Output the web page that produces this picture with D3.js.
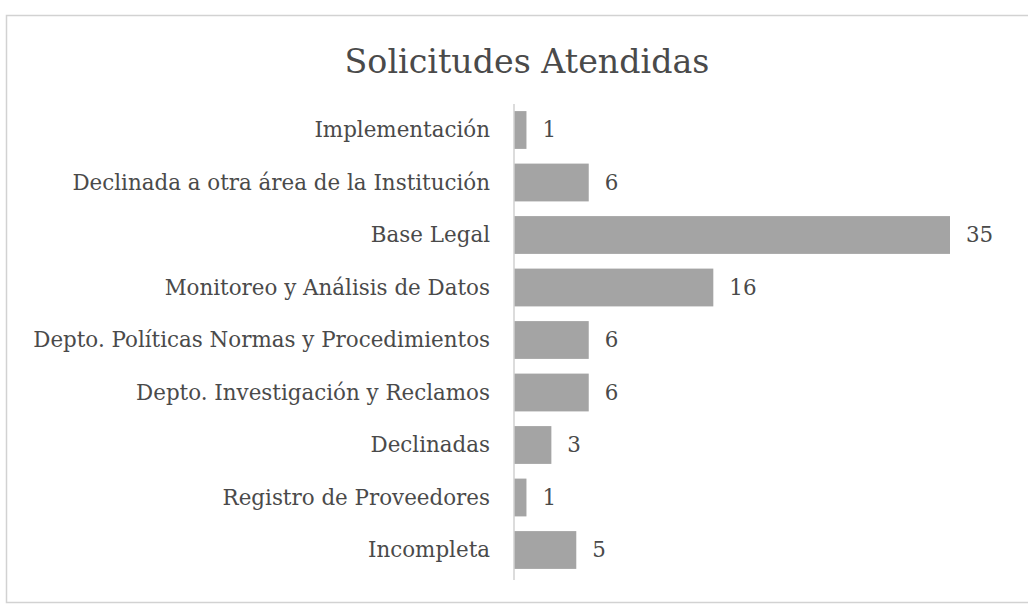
<!DOCTYPE html>
<html><head><meta charset="utf-8">
<script src="https://cdn.jsdelivr.net/npm/d3@7"></script>
<style>body{margin:0;background:#fff}svg{display:block}</style>
</head><body><svg id="c" width="1028" height="607"></svg>
<script>
const categories = ["Implementación","Declinada a otra área de la Institución","Base Legal","Monitoreo y Análisis de Datos","Depto. Políticas Normas y Procedimientos","Depto. Investigación y Reclamos","Declinadas","Registro de Proveedores","Incompleta"];
const values = [1,6,35,16,6,6,3,1,5];
const title = "Solicitudes Atendidas";

const svg = d3.select("#c");
const font = "'DejaVu Serif', 'Liberation Serif', serif";
const ink = "#4a4a4a";

// frame
svg.append("rect").attr("x",6.5).attr("y",15.5).attr("width",1030).attr("height",587)
  .attr("fill","none").attr("stroke","#d2d2d2").attr("stroke-width",1.5);

const x = d3.scaleLinear().domain([0,35]).range([514,950]);
const y = d3.scaleBand().domain(categories).range([103.75,576.25]).paddingInner(0.28).paddingOuter(0.14);

const t = svg.append("text").attr("x",527).attr("y",73).attr("text-anchor","middle")
  .attr("font-family",font).attr("font-size",30).attr("fill",ink).text(title);
// fit title width to reference (~365px)
t.attr("font-size", 30*365/t.node().getComputedTextLength());

svg.selectAll("rect.bar").data(categories).join("rect").attr("class","bar")
  .attr("x",x(0)).attr("y",d=>y(d)).attr("width",(d,i)=>x(values[i])-x(0)).attr("height",y.bandwidth())
  .attr("fill","#a4a4a4");

svg.append("line").attr("x1",x(0)).attr("x2",x(0)).attr("y1",104).attr("y2",580)
  .attr("stroke","#d0d0d0").attr("stroke-width",1.5);

const labs = svg.selectAll("text.lab").data(categories).join("text").attr("class","lab")
  .attr("x",490).attr("y",d=>y(d)+y.bandwidth()/2).attr("dy","0.35em").attr("text-anchor","end")
  .attr("font-family",font).attr("font-size",18).attr("fill",ink).text(d=>d);
// fit longest label to reference width (~457px)
const maxW = d3.max(labs.nodes(), n=>n.getComputedTextLength());
const fs = 18*457/maxW;
labs.attr("font-size", fs);

svg.selectAll("text.val").data(categories).join("text").attr("class","val")
  .attr("x",(d,i)=>x(values[i])+16).attr("y",d=>y(d)+y.bandwidth()/2).attr("dy","0.35em")
  .attr("font-family",font).attr("font-size",fs).attr("fill",ink).text((d,i)=>values[i]);
</script></body></html>
